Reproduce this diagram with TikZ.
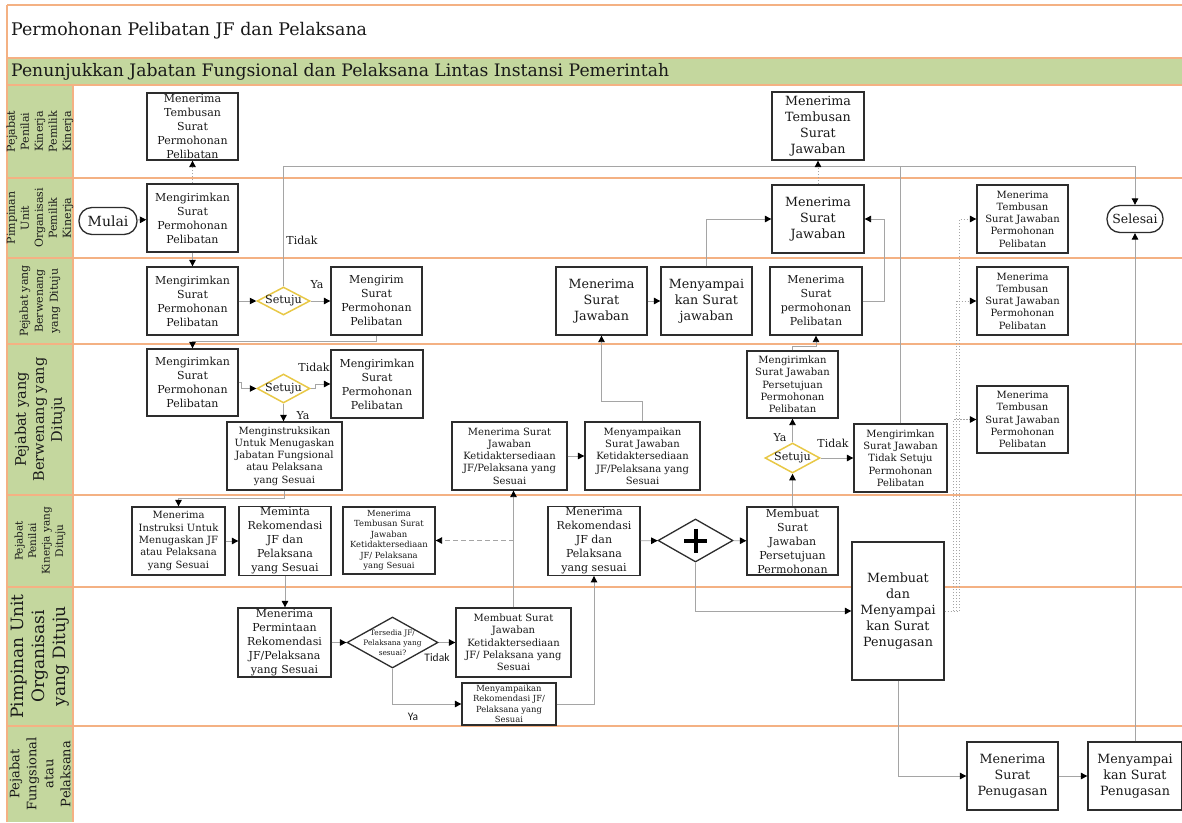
\documentclass[tikz,border=0pt]{standalone}
\usepackage{fontspec}
\setmainfont{DejaVu Serif}
\newfontfamily\labelsans{Carlito}
\usetikzlibrary{arrows.meta,shapes.geometric,calc}

\definecolor{lanegreen}{RGB}{196,215,158}
\definecolor{laneline}{RGB}{244,177,131}
\definecolor{gatecol}{RGB}{232,200,70}
\definecolor{flowgray}{RGB}{165,165,165}
\definecolor{boxline}{RGB}{45,45,45}

\begin{document}
\begin{tikzpicture}[x=1pt,y=-1pt,
  every node/.style={text=black!90},
  box/.style 2 args={draw=boxline,line width=1.3pt,fill=white,align=center,inner sep=1pt,
    minimum width=#1,minimum height=#2},
  fsA/.style={font=\fontsize{11}{14}\selectfont},
  fsB/.style={font=\fontsize{12.7}{16}\selectfont},
  fsC/.style={font=\fontsize{10}{12.3}\selectfont},
  fsD/.style={font=\fontsize{8.4}{10.5}\selectfont},
  term/.style={draw=boxline,line width=1.3pt,fill=white,rounded corners=13pt,
    minimum width=#1,minimum height=27,inner sep=0pt},
  gate/.style 2 args={diamond,draw=gatecol,line width=1.5pt,fill=white,
    minimum width=#1,minimum height=#2,inner sep=0pt},
  gatetext/.style={font=\fontsize{11.2}{13}\selectfont,inner sep=0pt},
  lanelabel/.style={rotate=90,align=center,inner sep=0pt},
  lbl/.style={font=\fontsize{11}{13}\selectfont,inner sep=0pt},
  sanslbl/.style={font=\labelsans\fontsize{11.5}{13}\selectfont,inner sep=0pt},
  flow/.style={draw=flowgray,line width=0.9pt,-{Triangle[length=6.5pt,width=6.5pt,color=black]}},
  plainflow/.style={draw=flowgray,line width=0.9pt},
  copyflow/.style={draw=flowgray,line width=0.9pt,dash pattern=on 1.5pt off 1.5pt,
    -{Triangle[length=6.5pt,width=6.5pt,color=black]}},
  dashflow/.style={draw=flowgray,line width=0.9pt,dash pattern=on 5pt off 3pt,
    -{Triangle[length=6.5pt,width=6.5pt,color=black]}},
]
\useasboundingbox (0,0) rectangle (1182,822);

% ---------- pool frame, header and lanes ----------
\fill[lanegreen] (7,58) rectangle (1182,85);
\fill[lanegreen] (7,85) rectangle (73,822);
\foreach \yy in {5,58,85,178,258,344,495,587,726}
  \draw[laneline,line width=1.5pt] (7,\yy) -- (1182,\yy);
\draw[laneline,line width=1.5pt] (7,5) -- (7,822);
\draw[laneline,line width=1.5pt] (73,85) -- (73,822);

\node[anchor=west,inner sep=0pt,font=\fontsize{17.4}{20}\selectfont] (title) at (11,31)
  {Permohonan Pelibatan JF dan Pelaksana};
\node[anchor=west,inner sep=0pt,font=\fontsize{17.2}{20}\selectfont] (subtitle) at (11,72)
  {Penunjukkan Jabatan Fungsional dan Pelaksana Lintas Instansi Pemerintah};

\node[lanelabel,font=\fontsize{11}{14}\selectfont] (lane1) at (40,131.5)
  {Pejabat\\Penilai\\Kinerja\\Pemilik\\Kinerja};
\node[lanelabel,font=\fontsize{11}{14}\selectfont] (lane2) at (40,218)
  {Pimpinan\\Unit\\Organisasi\\Pemilik\\Kinerja};
\node[lanelabel,font=\fontsize{11}{15}\selectfont] (lane3) at (40,301)
  {Pejabat yang\\Berwenang\\yang Dituju};
\node[lanelabel,font=\fontsize{14.5}{18}\selectfont] (lane4) at (40,419.5)
  {Pejabat yang\\Berwenang yang\\Dituju};
\node[lanelabel,font=\fontsize{10.5}{13.5}\selectfont] (lane5) at (40,541)
  {Pejabat\\Penilai\\Kinerja yang\\Dituju};
\node[lanelabel,font=\fontsize{17}{21}\selectfont] (lane6) at (40,656.5)
  {Pimpinan Unit\\Organisasi\\yang Dituju};
\node[lanelabel,font=\fontsize{13}{17}\selectfont] (lane7) at (40,774)
  {Pejabat\\Fungsional\\atau\\Pelaksana};

\coordinate (topbus) at (0,166);

% ---------- lane 1 ----------
\node[box={91}{67},fsA] (tsp) at (192.5,126.5) {Menerima\\Tembusan\\Surat\\Permohonan\\Pelibatan};
\node[box={92}{68},fsB] (tsj) at (818,126) {Menerima\\Tembusan\\Surat\\Jawaban};

% ---------- lane 2 ----------
\node[term=58,font=\fontsize{14}{16}\selectfont] (mulai) at (108,221) {Mulai};
\node[box={91}{68},fsA] (kirim1) at (192.5,218) {Mengirimkan\\Surat\\Permohonan\\Pelibatan};
\node[box={92}{68},fsB] (tjawab) at (818,219) {Menerima\\Surat\\Jawaban};
\node[box={91}{68},fsC] (tbs1) at (1022.5,219) {Menerima\\Tembusan\\Surat Jawaban\\Permohonan\\Pelibatan};
\node[term=56,font=\fontsize{12.5}{15}\selectfont] (selesai) at (1135,219) {Selesai};

% ---------- lane 3 ----------
\node[box={91}{68},fsA] (kirim2) at (192.5,301) {Mengirimkan\\Surat\\Permohonan\\Pelibatan};
\node[gate={53}{28}] (setuju1) at (283.5,301) {};
\node[gatetext] (setuju1t) at (setuju1.center) {Setuju};
\node[box={91}{68},fsA] (kirim3) at (376.5,301) {Mengirim\\Surat\\Permohonan\\Pelibatan};
\node[box={91}{68},fsB] (terimaJ) at (601.5,301) {Menerima\\Surat\\Jawaban};
\node[box={91}{68},fsB] (sampaiJ) at (706.5,301) {Menyampai\\kan Surat\\jawaban};
\node[box={92}{68},fsA] (terimaP) at (816,301) {Menerima\\Surat\\permohonan\\Pelibatan};
\node[box={91}{68},fsC] (tbs2) at (1022.5,301) {Menerima\\Tembusan\\Surat Jawaban\\Permohonan\\Pelibatan};

% ---------- lane 4 ----------
\node[box={91}{67},fsA] (kirim4) at (192.5,382.5) {Mengirimkan\\Surat\\Permohonan\\Pelibatan};
\node[gate={53}{29}] (setuju2) at (283.5,388.5) {};
\node[gatetext] (setuju2t) at (setuju2.center) {Setuju};
\node[box={92}{68},fsA] (kirim5) at (377,384) {Mengirimkan\\Surat\\Permohonan\\Pelibatan};
\node[box={115}{68},fsC] (instruksi) at (284.5,456) {Menginstruksikan\\Untuk Menugaskan\\Jabatan Fungsional\\atau Pelaksana\\yang Sesuai};
\node[box={115}{68},fsC] (terimaK) at (509.5,456) {Menerima Surat\\Jawaban\\Ketidaktersediaan\\JF/Pelaksana yang\\Sesuai};
\node[box={115}{68},fsC] (sampaiK) at (642.5,456) {Menyampaikan\\Surat Jawaban\\Ketidaktersediaan\\JF/Pelaksana yang\\Sesuai};
\node[box={91}{67},fsC] (kirimS) at (792.5,384.5) {Mengirimkan\\Surat Jawaban\\Persetujuan\\Permohonan\\Pelibatan};
\node[gate={55}{30}] (setuju3) at (792.5,458) {};
\node[gatetext] (setuju3t) at (setuju3.center) {Setuju};
\node[box={93}{68},fsC] (kirimT) at (900.5,458) {Mengirimkan\\Surat Jawaban\\Tidak Setuju\\Permohonan\\Pelibatan};
\node[box={91}{67},fsC] (tbs3) at (1022.5,419.5) {Menerima\\Tembusan\\Surat Jawaban\\Permohonan\\Pelibatan};

% ---------- lane 5 ----------
\node[box={93}{68},fsC] (terimaI) at (178.5,541) {Menerima\\Instruksi Untuk\\Menugaskan JF\\atau Pelaksana\\yang Sesuai};
\node[box={92}{68},fsA] (minta) at (285,541) {Meminta\\Rekomendasi\\JF dan\\Pelaksana\\yang Sesuai};
\node[box={92}{67},fsD] (tbsK) at (389,540.5) {Menerima\\Tembusan Surat\\Jawaban\\Ketidaktersediaan\\JF/ Pelaksana\\yang Sesuai};
\node[box={92}{68},fsA] (terimaR) at (594,541) {Menerima\\Rekomendasi\\JF dan\\Pelaksana\\yang sesuai};
\node[diamond,draw=boxline,line width=1.3pt,fill=white,minimum width=75,minimum height=43,inner sep=0pt] (gw) at (695.5,540.5) {};
\draw[line width=4pt,black] ($(gw.center)+(-11.5,0)$) -- ($(gw.center)+(11.5,0)$);
\draw[line width=4pt,black] ($(gw.center)+(0,-12)$) -- ($(gw.center)+(0,12)$);
\node[box={91}{68},fsA] (buatS) at (792.5,541) {Membuat\\Surat\\Jawaban\\Persetujuan\\Permohonan};
\node[box={92}{138},fsB] (tugas) at (898,611) {Membuat\\dan\\Menyampai\\kan Surat\\Penugasan};

% ---------- lane 6 ----------
\node[box={93}{69},fsA] (mintaR) at (284.5,642.5) {Menerima\\Permintaan\\Rekomendasi\\JF/Pelaksana\\yang Sesuai};
\node[diamond,draw=boxline,line width=1.3pt,fill=white,minimum width=91,minimum height=51,inner sep=0pt] (tersedia) at (392.5,642.5) {};
\node[align=center,inner sep=0pt,font=\fontsize{7.4}{10}\selectfont] (tersediat) at (tersedia.center) {Tersedia JF/\\Pelaksana yang\\sesuai?};
\node[box={115}{69},fsC] (buatK) at (513.5,642.5) {Membuat Surat\\Jawaban\\Ketidaktersediaan\\JF/ Pelaksana yang\\Sesuai};
\node[box={94}{42},fsD] (sampaiR) at (509,704) {Menyampaikan\\Rekomendasi JF/\\Pelaksana yang\\Sesuai};

% ---------- lane 7 ----------
\node[box={91}{68},fsB] (terimaT) at (1012.5,776) {Menerima\\Surat\\Penugasan};
\node[box={94}{68},fsB] (sampaiT) at (1135,776) {Menyampai\\kan Surat\\Penugasan};

% ---------- connectors ----------
\draw[flow] (mulai) -- (kirim1);
\draw[copyflow] (kirim1) -- (tsp);
\draw[flow] (kirim1) -- (kirim2);
\draw[flow] (kirim2) -- (setuju1);
\draw[flow] (setuju1) -- (kirim3);
\draw[flow] (setuju1.north) -- (setuju1.north |- topbus) -| (selesai.north);
\draw[plainflow] (kirimT.north) -- (kirimT.north |- topbus);
\draw[flow] (kirim3.south) -- ++(0,6) -| (kirim4.north);
\draw[flow] (kirim4.east) -- ++(3,0) |- (setuju2.west);
\draw[flow] (setuju2.east) -- ++(5,0) |- (kirim5.west);
\draw[flow] (setuju2.south) -- (setuju2.south |- instruksi.north);
\draw[flow] (instruksi.south) -- ++(0,8) -| (terimaI.north);
\draw[flow] (terimaI) -- (minta);
\draw[flow] (minta.south) -- (minta.south |- mintaR.north);
\draw[flow] (mintaR) -- (tersedia);
\draw[flow] (tersedia.east) -- (buatK.west);
\draw[flow] (tersedia.south) |- (sampaiR.west);
\draw[flow] (sampaiR.east) -| (terimaR.south);
\draw[flow] (buatK.north) -- (buatK.north |- terimaK.south);
\draw[dashflow] (buatK.north |- tbsK.east) -- (tbsK.east);
\draw[flow] (terimaK) -- (sampaiK);
\draw[flow] (sampaiK.north) -- ++(0,-20) -| (terimaJ.south);
\draw[flow] (terimaJ) -- (sampaiJ);
\draw[flow] (sampaiJ.north) |- (tjawab.west);
\draw[copyflow] (tjawab) -- (tsj);
\draw[flow] (terimaP.east) -- ++(22,0) |- (tjawab.east);
\draw[flow] (kirimS.north) -- ++(0,-4) -| (terimaP.south);
\draw[flow] (setuju3) -- (kirimS);
\draw[flow] (setuju3) -- (kirimT);
\draw[flow] (buatS) -- (setuju3);
\draw[flow] (terimaR) -- (gw);
\draw[flow] (gw) -- (buatS);
\draw[flow] (gw.south) |- (tugas.west);
\draw[flow] (tugas.south) |- (terimaT.west);
\draw[flow] (terimaT) -- (sampaiT);
\draw[flow] (sampaiT.north) -- (selesai.south);
\draw[copyflow] (tugas.east) -- ++(9,0) |- (tbs3.west);
\draw[copyflow] (tugas.east) -- ++(12,0) |- (tbs2.west);
\draw[copyflow] (tugas.east) -- ++(15,0) |- (tbs1.west);

% ---------- flow labels ----------
\node[lbl] (tidakA) at (302,240) {Tidak};
\node[lbl] (yaA) at (317,285) {Ya};
\node[lbl] (tidakB) at (314,367) {Tidak};
\node[lbl] (yaB) at (303,416) {Ya};
\node[lbl] (yaC) at (780,438) {Ya};
\node[lbl] (tidakC) at (833,443) {Tidak};
\node[sanslbl] (tidakD) at (437,658) {Tidak};
\node[sanslbl] (yaD) at (413,717) {Ya};
\end{tikzpicture}
\end{document}
